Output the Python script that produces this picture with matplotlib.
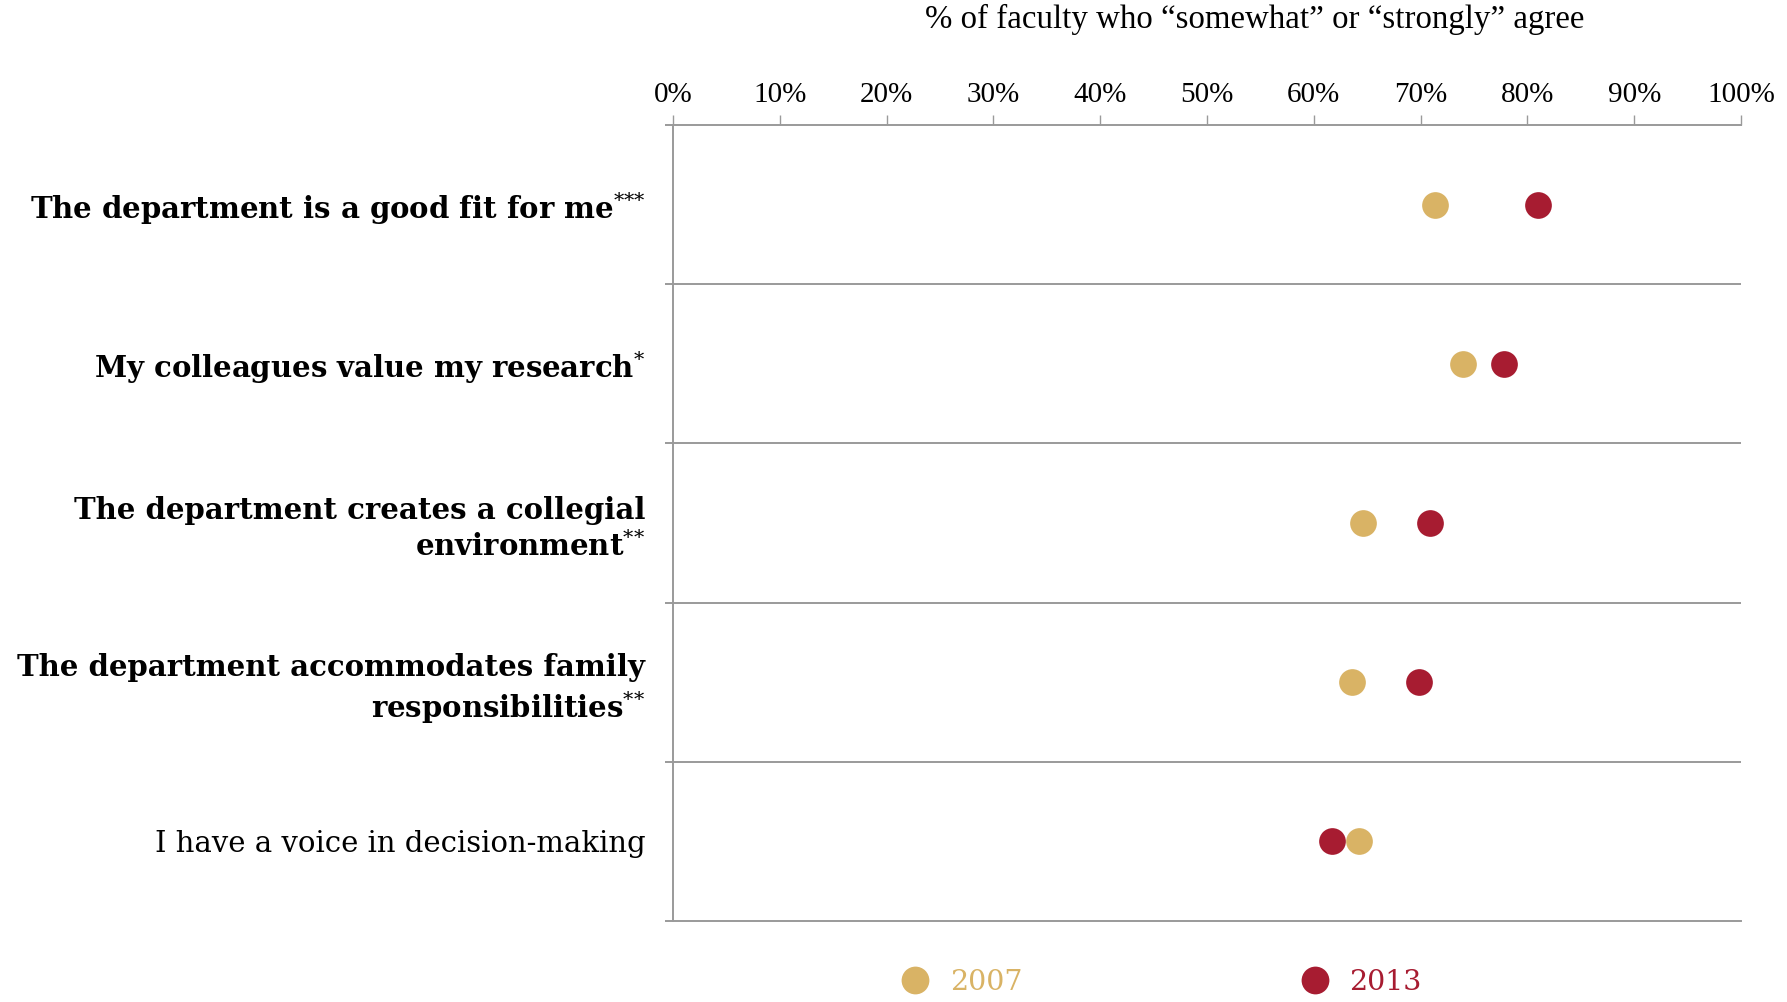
import matplotlib
matplotlib.use("Agg")
import matplotlib.pyplot as plt
from matplotlib.lines import Line2D

# Survey items (top to bottom) and share agreeing, in %
items = [
    "The department is a good fit for me$^{{*}{*}{*}}$",
    "My colleagues value my research$^{*}$",
    "The department creates a collegial\nenvironment$^{{*}{*}}$",
    "The department accommodates family\nresponsibilities$^{{*}{*}}$",
    "I have a voice in decision-making",
]
bold_items = [True, True, True, True, False]
pct_2007 = [71.3, 74.0, 64.6, 63.6, 64.2]
pct_2013 = [81.0, 77.8, 70.9, 69.8, 61.7]
years = ["2007", "2013"]
xticks = list(range(0, 101, 10))

gold = "#D9B365"
crimson = "#A71C31"
grid_col = "#9a9a9a"

plt.rcParams["mathtext.fontset"] = "dejavuserif"

fig = plt.figure(figsize=(17.87, 10.02), dpi=100)
ax = fig.add_axes([0.3766, 0.0808, 0.5977, 0.7944])

ypos = list(range(len(items)))
ax.scatter(pct_2007, ypos, s=370, color=gold, zorder=3, linewidths=0)
ax.scatter(pct_2013, ypos, s=370, color=crimson, zorder=3, linewidths=0)

ax.set_xlim(0, 100)
ax.set_ylim(len(items) - 0.5, -0.5)

# x axis on top
ax.xaxis.tick_top()
ax.set_xticks(xticks)
ax.set_xticklabels([f"{t}%" for t in xticks], fontfamily="Liberation Serif", fontsize=21)
ax.tick_params(axis="x", direction="out", length=7, width=1.0, color=grid_col, pad=5)
fig.text(0.702, 0.9806, "% of faculty who \u201csomewhat\u201d or \u201cstrongly\u201d agree",
         ha="center", va="center", fontfamily="Liberation Serif", fontsize=23.7)

# category labels
ax.set_yticks(ypos)
ax.set_yticklabels(items, fontfamily="DejaVu Serif", fontsize=21)
for lab, b in zip(ax.get_yticklabels(), bold_items):
    lab.set_fontweight("bold" if b else "normal")
    lab.set_multialignment("right")
    lab.set_linespacing(1.25)
ax.tick_params(axis="y", length=0, pad=20)

# row separators with small outward stubs
bounds = [i - 0.5 for i in range(len(items) + 1)]
ax.set_yticks(bounds, minor=True)
ax.tick_params(axis="y", which="minor", length=6, width=1.4, color=grid_col)
for b in bounds[1:-1]:
    ax.axhline(b, color=grid_col, lw=1.4, zorder=1)

for side in ["top", "bottom", "left"]:
    ax.spines[side].set_color(grid_col)
    ax.spines[side].set_linewidth(1.4)
ax.spines["right"].set_visible(False)

# legend below the plot
handles = [
    Line2D([], [], marker="o", ls="", markersize=20, color=gold, markeredgewidth=0),
    Line2D([], [], marker="o", ls="", markersize=20, color=crimson, markeredgewidth=0),
]
leg = fig.legend(handles, years, loc="center", bbox_to_anchor=(0.646, 0.0196), ncol=2,
                 frameon=False, columnspacing=9.3, handletextpad=0.2,
                 prop={"family": "DejaVu Serif", "size": 20.5}, labelcolor=[gold, crimson])

fig.savefig("out.png", dpi=100)
